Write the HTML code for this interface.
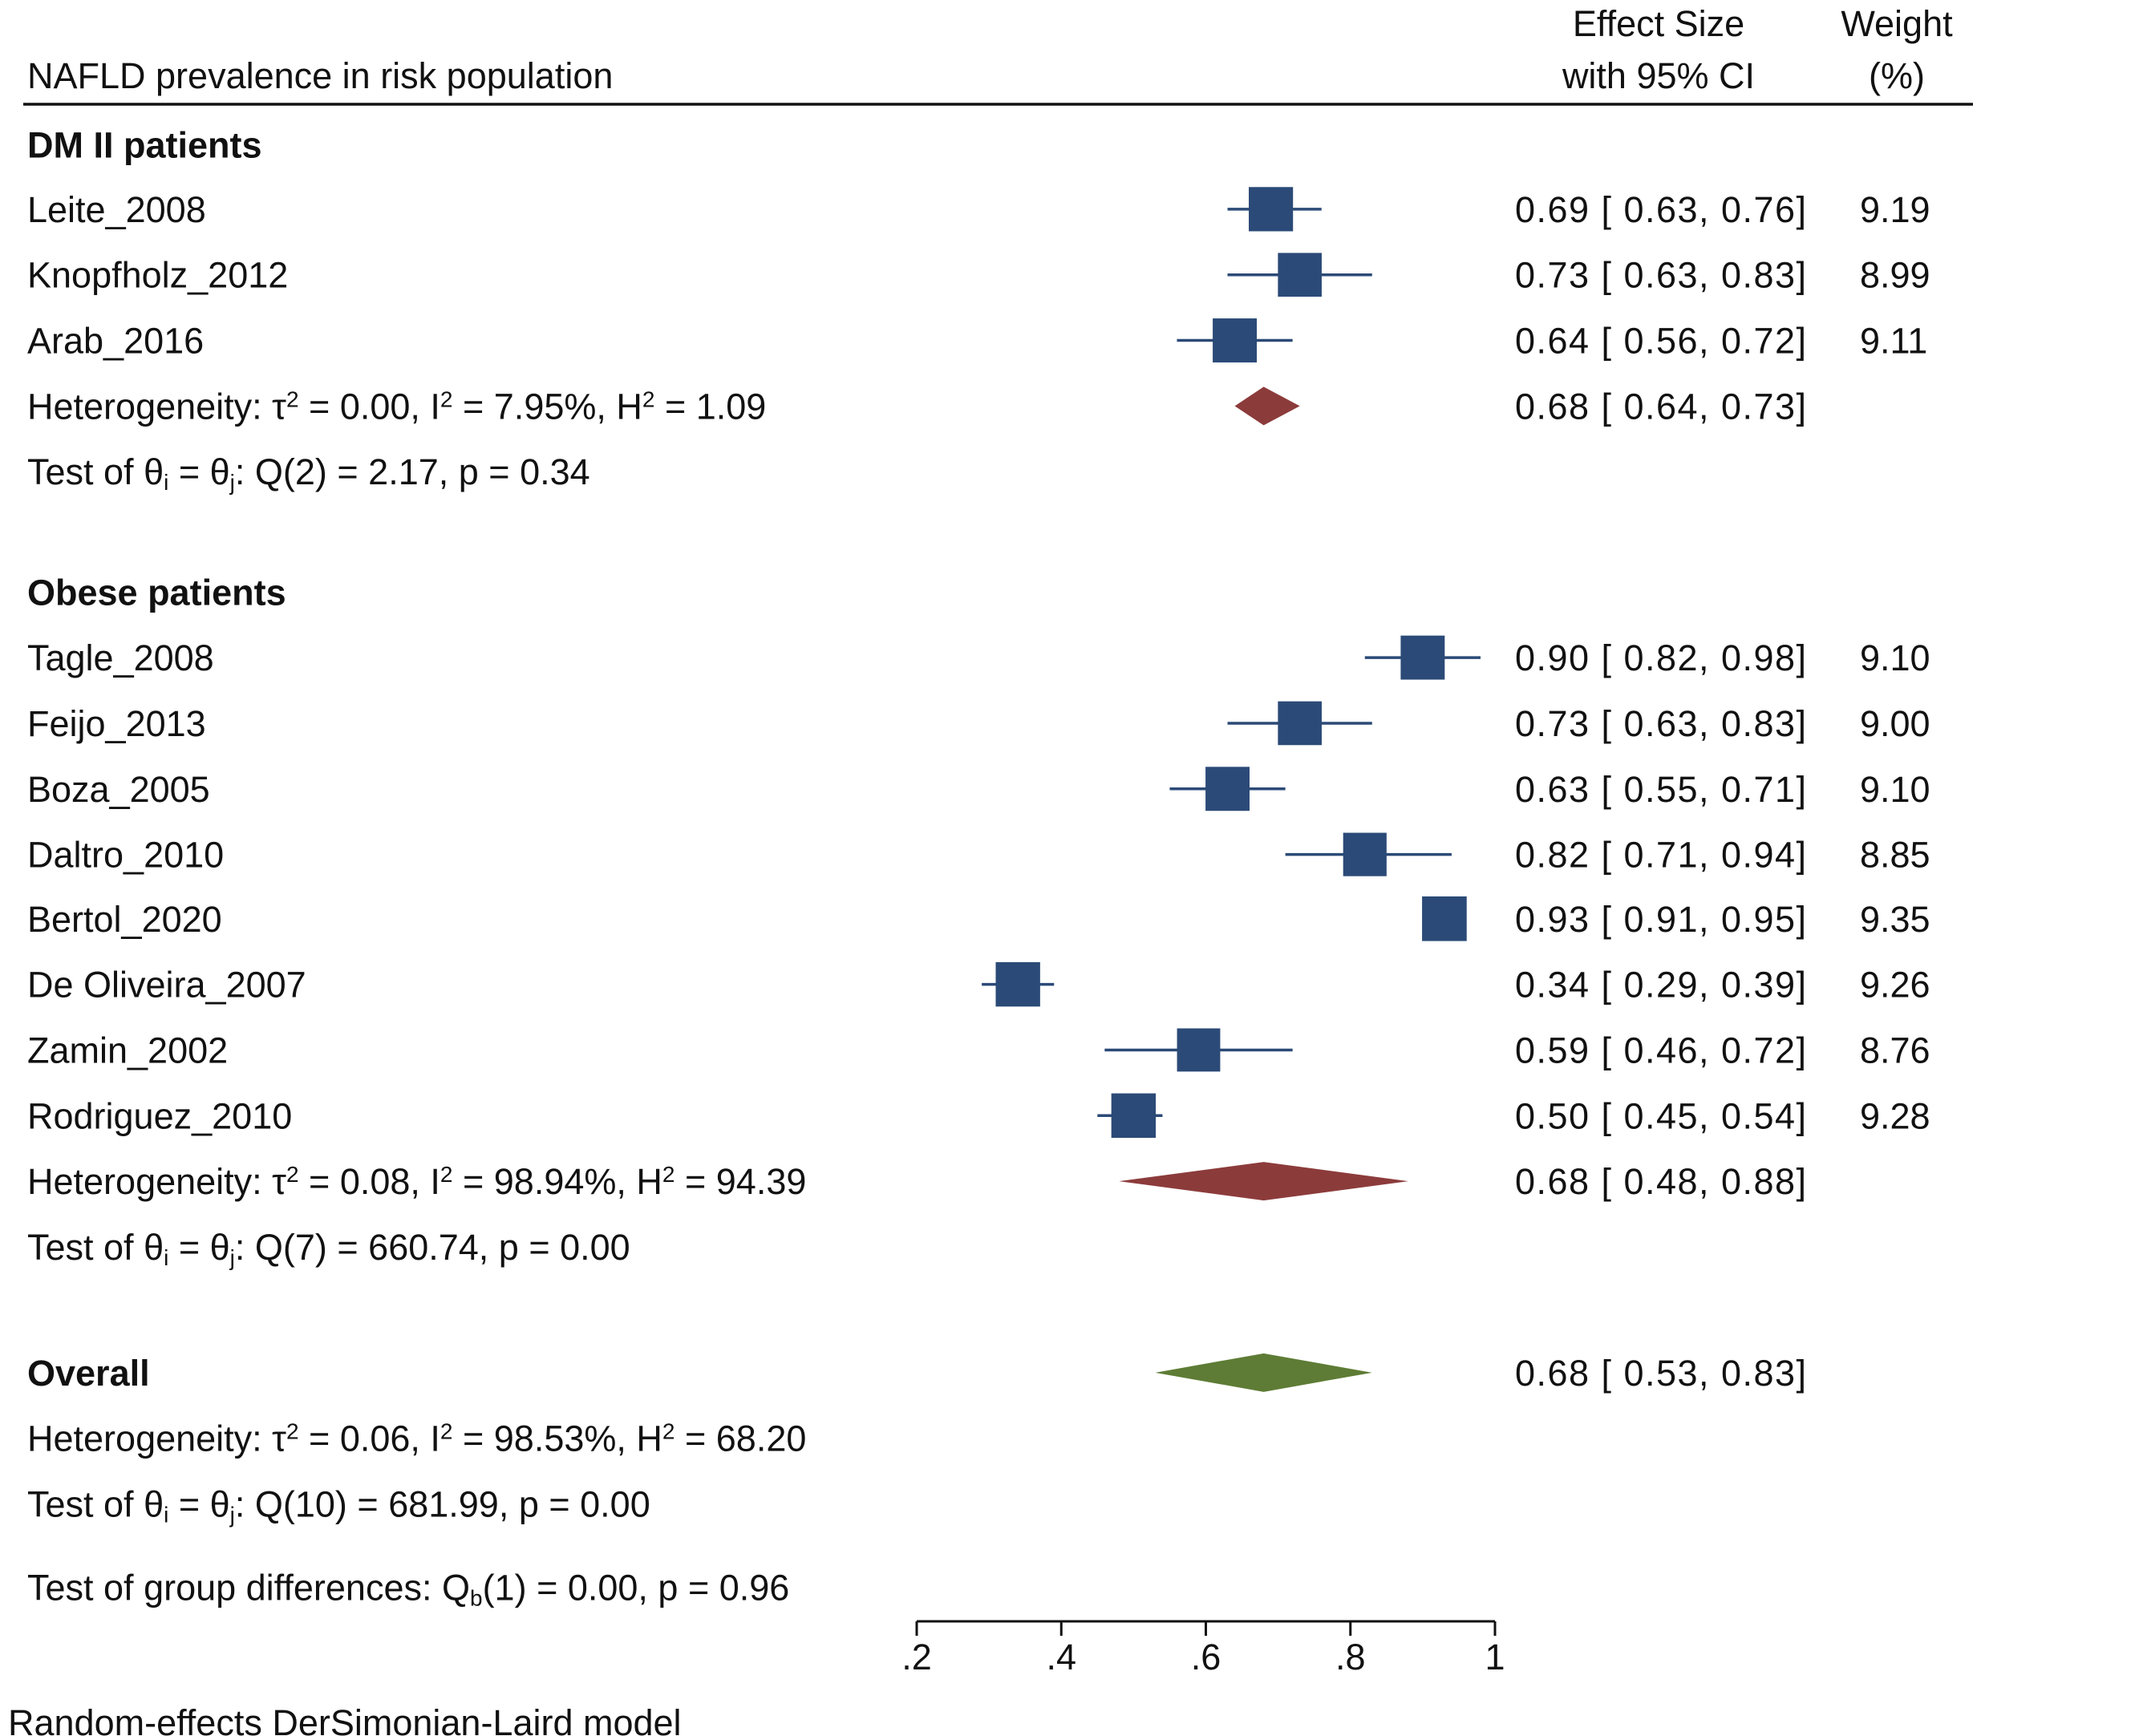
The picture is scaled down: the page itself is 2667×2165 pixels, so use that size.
<!DOCTYPE html>
<html><head><meta charset="utf-8"><title>NAFLD forest plot</title>
<style>
html,body{margin:0;padding:0;background:#fff;}
svg{display:block;font-family:"Liberation Sans",Arial,sans-serif;}
text{fill:#111;font-size:45px;}
</style></head>
<body>
<svg id="chart" width="2667" height="2165" viewBox="0 0 2667 2165" xmlns="http://www.w3.org/2000/svg">
<text x="34" y="110">NAFLD prevalence in risk population</text>
<text x="2068" y="45" text-anchor="middle">Effect Size</text>
<text x="2068" y="110" text-anchor="middle">with 95% CI</text>
<text x="2365" y="45" text-anchor="middle">Weight</text>
<text x="2365" y="110" text-anchor="middle">(%)</text>
<line x1="29" y1="130" x2="2460" y2="130" stroke="#111" stroke-width="3.5"/>
<g id="rows"></g>
<g id="axis"></g>
<text x="10" y="2164">Random-effects DerSimonian-Laird model</text>
</svg>
<script>
// study data
const studyNames = ["Leite_2008","Knopfholz_2012","Arab_2016","Tagle_2008","Feijo_2013","Boza_2005","Daltro_2010","Bertol_2020","De Oliveira_2007","Zamin_2002","Rodriguez_2010"];
const studyES = [0.69,0.73,0.64,0.90,0.73,0.63,0.82,0.93,0.34,0.59,0.50];
const studyLo = [0.63,0.63,0.56,0.82,0.63,0.55,0.71,0.91,0.29,0.46,0.45];
const studyHi = [0.76,0.83,0.72,0.98,0.83,0.71,0.94,0.95,0.39,0.72,0.54];
const studyWeight = ["9.19","8.99","9.11","9.10","9.00","9.10","8.85","9.35","9.26","8.76","9.28"];
const studyRowY = [153,201,249,481,529,577,625,672,720,768,816];
// pooled estimates
const pooledNames = ["dm2-pooled","obese-pooled","overall-pooled"];
const pooledES = [0.68,0.68,0.68];
const pooledLo = [0.64,0.48,0.53];
const pooledHi = [0.73,0.88,0.83];
const pooledRowY = [297,864,1004];
const pooledColor = ["#8c3b3b","#8c3b3b","#5e7c35"];
// axis ticks
const tickValues = [0.2,0.4,0.6,0.8,1.0];
const tickLabels = [".2",".4",".6",".8","1"];

const S = 1.705;
const X0 = 1143, X1 = 1864, V0 = 0.2, V1 = 1.0;
function xs(v){ return X0 + (v - V0) / (V1 - V0) * (X1 - X0); }
function ys(r){ return r * S; }
const NS = "http://www.w3.org/2000/svg";
const rows = document.getElementById("rows");
const axis = document.getElementById("axis");
function mk(tag, attrs, parent){ const e = document.createElementNS(NS, tag); for (const k in attrs) e.setAttribute(k, attrs[k]); (parent||rows).appendChild(e); return e; }
function f2(v){ return v.toFixed(2); }
function ciText(e,l,h){ return f2(e) + " [ " + f2(l) + ",  " + f2(h) + "]"; }

function label(y, html, bold, name){
  const t = mk("text", {x:34, y: ys(y)+16});
  
  
  if (bold) t.setAttribute("font-weight","bold");
  t.innerHTML = html;
  return t;
}
const sup = s => '<tspan baseline-shift="super" font-size="28">' + s + '</tspan>';
const sub = s => '<tspan baseline-shift="-25%" font-size="28">' + s + '</tspan>';
label(106, "DM II patients", true, "dm2-group-header");
label(297, "Heterogeneity: τ" + sup("2") + " = 0.00, I" + sup("2") + " = 7.95%, H" + sup("2") + " = 1.09", false, "dm2-heterogeneity");
label(345, "Test of θ" + sub("i") + " = θ" + sub("j") + ": Q(2) = 2.17, p = 0.34", false, "dm2-homogeneity-test");
label(433, "Obese patients", true, "obese-group-header");
label(864, "Heterogeneity: τ" + sup("2") + " = 0.08, I" + sup("2") + " = 98.94%, H" + sup("2") + " = 94.39", false, "obese-heterogeneity");
label(912, "Test of θ" + sub("i") + " = θ" + sub("j") + ": Q(7) = 660.74, p = 0.00", false, "obese-homogeneity-test");
label(1004, "Overall", true, "overall-header");
label(1052, "Heterogeneity: τ" + sup("2") + " = 0.06, I" + sup("2") + " = 98.53%, H" + sup("2") + " = 68.20", false, "overall-heterogeneity");
label(1100, "Test of θ" + sub("i") + " = θ" + sub("j") + ": Q(10) = 681.99, p = 0.00", false, "overall-homogeneity-test");
label(1161, "Test of group differences: Q" + sub("b") + "(1) = 0.00, p = 0.96", false, "group-difference-test");

// study rows
for (let i = 0; i < studyNames.length; i++){
  const cy = ys(studyRowY[i]);
  const n = mk("text", {x:34, y: cy+16});
  
  
  n.textContent = studyNames[i];
  const ln = mk("line", {x1: xs(studyLo[i]), x2: xs(studyHi[i]), y1: cy, y2: cy, stroke:"#2b4a77", "stroke-width":3.5});
  
  
  const side = 18.2 * Math.sqrt(parseFloat(studyWeight[i]));
  const sq = mk("rect", {x: xs(studyES[i]) - side/2, y: cy - side/2, width: side, height: side, fill:"#2b4a77"});
  
  
  const ci = mk("text", {x:1889, y: cy+16, textLength: 363, lengthAdjust: "spacing"});
  
  
  ci.setAttribute("xml:space","preserve");
  ci.textContent = ciText(studyES[i], studyLo[i], studyHi[i]);
  const w = mk("text", {x:2319, y: cy+16});
  
  
  w.textContent = studyWeight[i];
}

// pooled diamonds
for (let i = 0; i < pooledNames.length; i++){
  const cy = ys(pooledRowY[i]);
  const h = 24;
  const pts = [[xs(pooledLo[i]),cy],[xs(pooledES[i]),cy-h],[xs(pooledHi[i]),cy],[xs(pooledES[i]),cy+h]].map(p=>p.join(",")).join(" ");
  const d = mk("polygon", {points: pts, fill: pooledColor[i]});
  
  
  const ci = mk("text", {x:1889, y: cy+16, textLength: 363, lengthAdjust: "spacing"});
  
  
  ci.setAttribute("xml:space","preserve");
  ci.textContent = ciText(pooledES[i], pooledLo[i], pooledHi[i]);
}

// x axis
const ay = 2022;
const al = mk("line", {x1: xs(V0), x2: xs(V1), y1: ay, y2: ay, stroke:"#111", "stroke-width":3}, axis);


for (let i = 0; i < tickValues.length; i++){
  const x = xs(tickValues[i]);
  const t = mk("line", {x1:x, x2:x, y1:ay, y2:ay+18, stroke:"#111", "stroke-width":3}, axis);
  
  
  const lb = mk("text", {x:x, y:ay+60, "text-anchor":"middle"}, axis);
  
  
  lb.textContent = tickLabels[i];
}
</script>
</body></html>
